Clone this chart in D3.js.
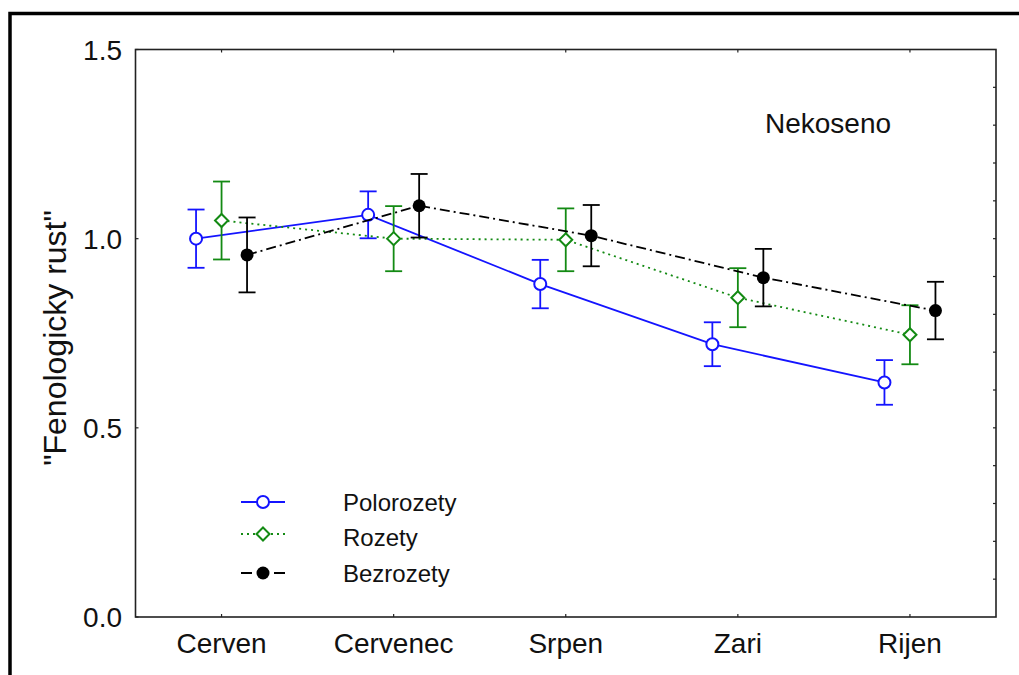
<!DOCTYPE html>
<html>
<head>
<meta charset="utf-8">
<script src="https://cdn.jsdelivr.net/npm/d3@7.9.0/dist/d3.min.js"></script>
<style>
  body { margin: 0; background: #fff; }
  svg { display: block; font-family: "Liberation Sans", Arial, sans-serif; }
</style>
</head>
<body>
<svg id="chart" width="1019" height="675"></svg>
<script>
// months on the x axis
const months = ['Cerven', 'Cervenec', 'Srpen', 'Zari', 'Rijen'];
const seriesNames = ['Polorozety', 'Rozety', 'Bezrozety'];

// means and half-width of the error bars
const polorozetyMean = [1.000, 1.063, 0.880, 0.721, 0.620];
const polorozetyErr  = [0.077, 0.062, 0.064, 0.058, 0.059];
const rozetyMean     = [1.048, 1.000, 0.997, 0.844, 0.746];
const rozetyErr      = [0.103, 0.086, 0.083, 0.078, 0.078];
const bezrozetyMean  = [0.957, 1.087, 1.008, 0.897, 0.810];
const bezrozetyErr   = [0.099, 0.084, 0.081, 0.076, 0.076];

const yTicks = [0, 0.5, 1.0, 1.5];
const yTitle = '"Fenologicky rust"';
const panelLabel = 'Nekoseno';

const series = [
  { name: seriesNames[0], mean: polorozetyMean, err: polorozetyErr, color: '#1414ff', dash: null, legendDash: null, marker: 'circle' },
  { name: seriesNames[1], mean: rozetyMean, err: rozetyErr, color: '#138a13', dash: '2,4', legendDash: '2,4', marker: 'diamond' },
  { name: seriesNames[2], mean: bezrozetyMean, err: bezrozetyErr, color: '#000', dash: '10,4,2,4', legendDash: '11,22,11', marker: 'dot' },
];

const svg = d3.select('#chart');
const plot = { left: 135.5, right: 996, top: 49.5, bottom: 617 };

// outer frame (cut off on the right and bottom)
svg.append('rect')
  .attr('x', 10).attr('y', 13.5)
  .attr('width', 1100).attr('height', 1000)
  .attr('fill', 'none').attr('stroke', '#000').attr('stroke-width', 3.5);

const x = d3.scaleBand().domain(months).range([plot.left, plot.right]).padding(0);
const offset = d3.scalePoint().domain(seriesNames).range([-25.5, 25.5]);
const y = d3.scaleLinear().domain([0, 1.5]).range([plot.bottom, plot.top]);
const cx = (m, s) => x(m) + x.bandwidth() / 2 + offset(s);

// plot box
svg.append('rect')
  .attr('x', plot.left).attr('y', plot.top)
  .attr('width', plot.right - plot.left).attr('height', plot.bottom - plot.top)
  .attr('fill', 'none').attr('stroke', '#222').attr('stroke-width', 1.6);

// inward ticks
const ticks = svg.append('g').attr('stroke', '#222').attr('stroke-width', 1.2);
months.forEach(m => {
  const tx = x(m) + x.bandwidth() / 2;
  ticks.append('line').attr('x1', tx).attr('x2', tx).attr('y1', plot.bottom).attr('y2', plot.bottom - 3);
  ticks.append('line').attr('x1', tx).attr('x2', tx).attr('y1', plot.top).attr('y2', plot.top + 3);
});
d3.range(1, 15).forEach(i => {
  const ty = y(i / 10);
  ticks.append('line').attr('x1', plot.right).attr('x2', plot.right - 3).attr('y1', ty).attr('y2', ty);
});
yTicks.forEach(v => {
  ticks.append('line').attr('x1', plot.left).attr('x2', plot.left + 3).attr('y1', y(v)).attr('y2', y(v));
});

// y tick labels
svg.append('g').selectAll('text').data(yTicks).join('text')
  .attr('x', 122).attr('y', d => y(d) + 10)
  .attr('text-anchor', 'end').attr('font-size', 28).attr('fill', '#111')
  .text(d => d.toFixed(1));

// x tick labels
svg.append('g').selectAll('text').data(months).join('text')
  .attr('x', d => x(d) + x.bandwidth() / 2).attr('y', 653)
  .attr('text-anchor', 'middle').attr('font-size', 28).attr('fill', '#111')
  .text(d => d);

// y axis title
svg.append('text')
  .attr('transform', 'translate(66,338) rotate(-90)')
  .attr('text-anchor', 'middle').attr('font-size', 32).attr('fill', '#111')
  .text(yTitle);

svg.append('text')
  .attr('x', 765).attr('y', 133)
  .attr('font-size', 28).attr('fill', '#111')
  .text(panelLabel);

function drawMarker(g, type, px, py, color) {
  if (type === 'circle') {
    g.append('circle').attr('cx', px).attr('cy', py).attr('r', 6)
      .attr('fill', '#fff').attr('stroke', color).attr('stroke-width', 2);
  } else if (type === 'diamond') {
    const r = 6.5;
    g.append('path')
      .attr('d', `M${px},${py - r}L${px + r},${py}L${px},${py + r}L${px - r},${py}Z`)
      .attr('fill', '#fff').attr('stroke', color).attr('stroke-width', 2);
  } else {
    g.append('circle').attr('cx', px).attr('cy', py).attr('r', 6.5).attr('fill', color);
  }
}

const line = d3.line();

series.forEach(s => {
  const g = svg.append('g');
  const pts = months.map((m, i) => [cx(m, s.name), y(s.mean[i])]);

  g.append('path').attr('d', line(pts))
    .attr('fill', 'none').attr('stroke', s.color).attr('stroke-width', 1.8)
    .attr('stroke-dasharray', s.dash);

  months.forEach((m, i) => {
    const px = cx(m, s.name);
    const top = y(s.mean[i] + s.err[i]);
    const bot = y(s.mean[i] - s.err[i]);
    g.append('line').attr('x1', px).attr('x2', px).attr('y1', top).attr('y2', bot)
      .attr('stroke', s.color).attr('stroke-width', 1.8);
    [top, bot].forEach(cy => {
      g.append('line').attr('x1', px - 8.5).attr('x2', px + 8.5).attr('y1', cy).attr('y2', cy)
        .attr('stroke', s.color).attr('stroke-width', 1.8);
    });
  });

  months.forEach((m, i) => drawMarker(g, s.marker, pts[i][0], pts[i][1], s.color));
});

// legend
const legendBase = [511, 546, 582];
const legendMarkY = [502, 534, 573];
series.forEach((s, i) => {
  const g = svg.append('g');
  g.append('line').attr('x1', 241).attr('x2', 285)
    .attr('y1', legendMarkY[i]).attr('y2', legendMarkY[i])
    .attr('stroke', s.color).attr('stroke-width', 1.8)
    .attr('stroke-dasharray', s.legendDash);
  drawMarker(g, s.marker, 263, legendMarkY[i], s.color);
  g.append('text').attr('x', 343).attr('y', legendBase[i])
    .attr('font-size', 24).attr('fill', '#111').text(s.name);
});
</script>
</body>
</html>
